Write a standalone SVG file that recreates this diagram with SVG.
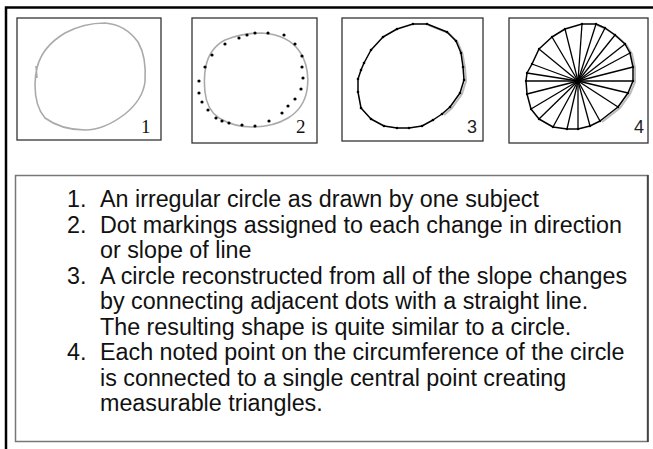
<svg xmlns="http://www.w3.org/2000/svg" width="653" height="449" viewBox="0 0 653 449">
<style>
.panel{fill:#fff;stroke:#333;stroke-width:1.3}
.hand{fill:none;stroke:#aaa;stroke-width:1.6;stroke-linejoin:round}
.shadow{fill:none;stroke:#bbb;stroke-width:2;stroke-linejoin:round}
.poly{fill:none;stroke:#000;stroke-width:1.5;stroke-linejoin:round}
.spoke{stroke:#000;stroke-width:1.3}
.dot{fill:#000}
.lbls{font-family:"Times New Roman","Liberation Serif",serif;font-size:19px;fill:#111}
.lbl{font-family:"Liberation Sans",Arial,sans-serif;font-size:18px;fill:#222}
.txt{font-family:"Liberation Sans",Arial,sans-serif;font-size:23.3px;fill:#111}
</style>
<rect width="653" height="449" fill="#fff"/>
<g id="frame">
<path d="M6,449 V7.5 H653" fill="none" stroke="#000" stroke-width="2.5"/>
</g>
<g id="panel1">
<rect class="panel" x="17" y="18" width="144" height="122"/>
<path class="hand" d="M37,68 C40,55 50,42 65,33 C78,26 92,23 105,23 C118,24 130,31 138,42 C145,54 146,68 145,82 C143,96 135,106 125,114 C112,124 98,130 85,130 C70,130 56,126 45,118 C38,110 35,98 35,85 C35,78 36,72 37,68 M36,66 L37,78"/>
<text class="lbls" x="141" y="133">1</text>
</g>
<g id="panel2">
<rect class="panel" x="192" y="18" width="125" height="125"/>
<path class="hand" d="M206,66 C208,55 215,45 225,40 C237,35 250,33 262,33 C278,34 292,40 300,52 C307,63 309,77 307,90 C305,102 298,112 288,118 C278,124 266,127 252,127 C240,127 229,124 219,118 C210,112 206,102 205,92 C204,82 204,74 206,66 Z"/>
<g class="dot">
<circle cx="199" cy="81" r="1.6"/><circle cx="199" cy="93" r="1.6"/><circle cx="202" cy="102" r="1.6"/><circle cx="208" cy="110" r="1.6"/><circle cx="216" cy="118" r="1.6"/><circle cx="222" cy="121" r="1.6"/><circle cx="229" cy="123" r="1.6"/><circle cx="242" cy="125" r="1.6"/><circle cx="255" cy="126" r="1.6"/><circle cx="269" cy="121" r="1.6"/><circle cx="282" cy="113" r="1.6"/><circle cx="288" cy="106" r="1.6"/><circle cx="295" cy="99" r="1.6"/><circle cx="301" cy="89" r="1.6"/><circle cx="303" cy="78" r="1.6"/><circle cx="302" cy="67" r="1.6"/><circle cx="302" cy="56" r="1.6"/><circle cx="295" cy="44" r="1.6"/><circle cx="284" cy="35" r="1.6"/><circle cx="268" cy="33" r="1.6"/><circle cx="255" cy="33" r="1.6"/><circle cx="247" cy="35" r="1.6"/><circle cx="239" cy="38" r="1.6"/><circle cx="225" cy="44" r="1.6"/><circle cx="212" cy="55" r="1.6"/><circle cx="205" cy="67" r="1.6"/>
</g>
<text class="lbls" x="296" y="133">2</text>
</g>
<g id="panel3">
<rect class="panel" x="342" y="18" width="141" height="123"/>
<polyline class="shadow" points="428.5,25 448.5,33 457.5,42 462.5,54 465,68 466,81 462,94 452,108 444,115"/>
<polygon class="poly" points="413,24 427,24 447,32 456,41 461,53 463,67 464,80 460,93 450,107 442,114 433,120 422,126 409,128 397,128 384,126 371,119 361,108 358,92 358,79 361,70 364,63 371,50 383,37 397,29"/>
<g class="dot">
<circle cx="413" cy="24" r="1.3"/><circle cx="427" cy="24" r="1.3"/><circle cx="447" cy="32" r="1.3"/><circle cx="456" cy="41" r="1.3"/><circle cx="461" cy="53" r="1.3"/><circle cx="463" cy="67" r="1.3"/><circle cx="464" cy="80" r="1.3"/><circle cx="460" cy="93" r="1.3"/><circle cx="450" cy="107" r="1.3"/><circle cx="442" cy="114" r="1.3"/><circle cx="433" cy="120" r="1.3"/><circle cx="422" cy="126" r="1.3"/><circle cx="409" cy="128" r="1.3"/><circle cx="397" cy="128" r="1.3"/><circle cx="384" cy="126" r="1.3"/><circle cx="371" cy="119" r="1.3"/><circle cx="361" cy="108" r="1.3"/><circle cx="358" cy="92" r="1.3"/><circle cx="358" cy="79" r="1.3"/><circle cx="361" cy="70" r="1.3"/><circle cx="364" cy="63" r="1.3"/><circle cx="371" cy="50" r="1.3"/><circle cx="383" cy="37" r="1.3"/><circle cx="397" cy="29" r="1.3"/>
</g>
<text class="lbl" x="467" y="133">3</text>
</g>
<g id="panel4">
<rect class="panel" x="509" y="18" width="139" height="125"/>
<polyline class="shadow" points="597,25 606.5,29 616.5,36 626.5,45 632,54 635,68 635,82 630,94 620,108 602,122"/>
<polygon class="poly" points="582,24 596,24 605,28 615,35 625,44 630,53 633,67 633,81 628,93 618,107 600,121 590,126 578,129 567,129 553,127 539,119 531,109 527,94 526,81 527,73 532,64 539,49 552,37 565,29"/>
<g class="spoke">
<line x1="578" y1="81" x2="582" y2="24"/><line x1="578" y1="81" x2="596" y2="24"/><line x1="578" y1="81" x2="605" y2="28"/><line x1="578" y1="81" x2="615" y2="35"/><line x1="578" y1="81" x2="625" y2="44"/><line x1="578" y1="81" x2="630" y2="53"/><line x1="578" y1="81" x2="633" y2="67"/><line x1="578" y1="81" x2="633" y2="81"/><line x1="578" y1="81" x2="628" y2="93"/><line x1="578" y1="81" x2="618" y2="107"/><line x1="578" y1="81" x2="600" y2="121"/><line x1="578" y1="81" x2="590" y2="126"/><line x1="578" y1="81" x2="578" y2="129"/><line x1="578" y1="81" x2="567" y2="129"/><line x1="578" y1="81" x2="553" y2="127"/><line x1="578" y1="81" x2="539" y2="119"/><line x1="578" y1="81" x2="531" y2="109"/><line x1="578" y1="81" x2="527" y2="94"/><line x1="578" y1="81" x2="526" y2="81"/><line x1="578" y1="81" x2="527" y2="73"/><line x1="578" y1="81" x2="532" y2="64"/><line x1="578" y1="81" x2="539" y2="49"/><line x1="578" y1="81" x2="552" y2="37"/><line x1="578" y1="81" x2="565" y2="29"/>
</g>
<g class="dot">
<circle cx="578" cy="81" r="2.5"/>
<circle cx="582" cy="24" r="1.2"/><circle cx="596" cy="24" r="1.2"/><circle cx="605" cy="28" r="1.2"/><circle cx="615" cy="35" r="1.2"/><circle cx="625" cy="44" r="1.2"/><circle cx="630" cy="53" r="1.2"/><circle cx="633" cy="67" r="1.2"/><circle cx="633" cy="81" r="1.2"/><circle cx="628" cy="93" r="1.2"/><circle cx="618" cy="107" r="1.2"/><circle cx="600" cy="121" r="1.2"/><circle cx="590" cy="126" r="1.2"/><circle cx="578" cy="129" r="1.2"/><circle cx="567" cy="129" r="1.2"/><circle cx="553" cy="127" r="1.2"/><circle cx="539" cy="119" r="1.2"/><circle cx="531" cy="109" r="1.2"/><circle cx="527" cy="94" r="1.2"/><circle cx="526" cy="81" r="1.2"/><circle cx="527" cy="73" r="1.2"/><circle cx="532" cy="64" r="1.2"/><circle cx="539" cy="49" r="1.2"/><circle cx="552" cy="37" r="1.2"/><circle cx="565" cy="29" r="1.2"/>
</g>
<text class="lbl" x="634" y="133">4</text>
</g>
<g id="caption">
<rect x="15.5" y="175.5" width="632" height="266" fill="#fff" stroke="#777" stroke-width="1.5"/>
<line x1="648" y1="175" x2="648" y2="442" stroke="#333" stroke-width="1.5"/>
<text class="txt" x="67" y="207">1.</text><text class="txt" x="100" y="207">An irregular circle as drawn by one subject</text>
<text class="txt" x="67" y="232.5">2.</text><text class="txt" x="100" y="232.5">Dot markings assigned to each change in direction</text>
<text class="txt" x="100" y="258">or slope of line</text>
<text class="txt" x="67" y="283.5">3.</text><text class="txt" x="100" y="283.5">A circle reconstructed from all of the slope changes</text>
<text class="txt" x="100" y="309">by connecting adjacent dots with a straight line.</text>
<text class="txt" x="100" y="334.5">The resulting shape is quite similar to a circle.</text>
<text class="txt" x="67" y="360">4.</text><text class="txt" x="100" y="360">Each noted point on the circumference of the circle</text>
<text class="txt" x="100" y="385.5">is connected to a single central point creating</text>
<text class="txt" x="100" y="411">measurable triangles.</text>
</g>
</svg>
